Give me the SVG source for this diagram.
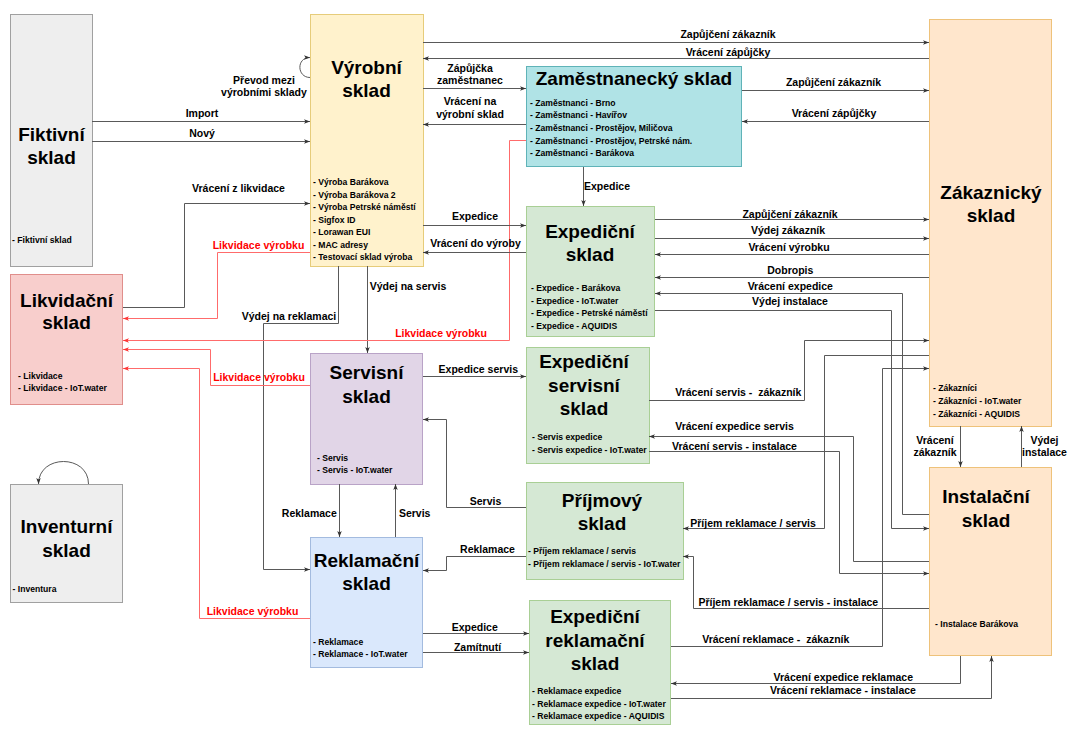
<svg xmlns="http://www.w3.org/2000/svg" width="1070" height="729" viewBox="0 0 1070 729">
<style>
text{font-family:"Liberation Sans",Arial,sans-serif;font-weight:bold;fill:#000}
.t{font-size:19px;text-anchor:middle}
.i{font-size:8.6px}
.l{font-size:10.5px;text-anchor:middle}
.r{fill:#ff0000}
.c path{fill:none;stroke:#595959;stroke-width:1}
.c path.red{stroke:#ff6b6b}
</style>
<defs>
<marker id="a" viewBox="0 0 8 8" refX="8" refY="4" markerWidth="6" markerHeight="6" orient="auto" markerUnits="userSpaceOnUse"><path d="M0,1 L8,4 L0,7 L2,4 z" fill="#333"/></marker>
<marker id="ar" viewBox="0 0 8 8" refX="8" refY="4" markerWidth="6" markerHeight="6" orient="auto" markerUnits="userSpaceOnUse"><path d="M0,1 L8,4 L0,7 L2,4 z" fill="#ff3333"/></marker>
</defs>
<rect width="1070" height="729" fill="#fff"/>

<g id="fiktivni">
<rect x="10.5" y="14.5" width="82" height="252" fill="#eeeeee" stroke="#a0a0a0"/>
<text class="t" x="51.5" y="141">Fiktivní</text>
<text class="t" x="51.5" y="164">sklad</text>
<text class="i" x="12" y="243">- Fiktivní sklad</text>
</g>

<g id="vyrobni">
<rect x="310.5" y="14.5" width="113" height="252" fill="#fff2cc" stroke="#e6cc7a"/>
<text class="t" x="366.5" y="73.5">Výrobní</text>
<text class="t" x="366.5" y="96.5">sklad</text>
<text class="i" x="313" y="185">- Výroba Barákova</text>
<text class="i" x="313" y="197.5">- Výroba Barákova 2</text>
<text class="i" x="313" y="210">- Výroba Petrské náměstí</text>
<text class="i" x="313" y="222.5">- Sigfox ID</text>
<text class="i" x="313" y="235">- Lorawan EUI</text>
<text class="i" x="313" y="247.5">- MAC adresy</text>
<text class="i" x="313" y="260">- Testovací sklad výroba</text>
</g>

<g id="zamestnanecky">
<rect x="526.5" y="66.5" width="215" height="100" fill="#b0e3e6" stroke="#5fb3b8"/>
<text class="t" x="634" y="85">Zaměstnanecký sklad</text>
<text class="i" x="530" y="105.7">- Zaměstnanci - Brno</text>
<text class="i" x="530" y="118.3">- Zaměstnanci - Havířov</text>
<text class="i" x="530" y="131">- Zaměstnanci - Prostějov, Miličova</text>
<text class="i" x="530" y="143.7">- Zaměstnanci - Prostějov, Petrské nám.</text>
<text class="i" x="530" y="156.3">- Zaměstnanci - Barákova</text>
</g>

<g id="zakaznicky">
<rect x="929.5" y="19.5" width="122" height="407" fill="#ffe6cc" stroke="#eec27a"/>
<text class="t" x="991" y="199">Zákaznický</text>
<text class="t" x="991" y="222">sklad</text>
<text class="i" x="933" y="391.3">- Zákazníci</text>
<text class="i" x="933" y="404">- Zákazníci - IoT.water</text>
<text class="i" x="933" y="416.7">- Zákazníci - AQUIDIS</text>
</g>

<g id="expedicni">
<rect x="526.5" y="206.5" width="128" height="130" fill="#d5e8d4" stroke="#a9cf95"/>
<text class="t" x="590" y="238.3">Expediční</text>
<text class="t" x="590" y="261">sklad</text>
<text class="i" x="531" y="291.3">- Expedice - Barákova</text>
<text class="i" x="531" y="303.7">- Expedice - IoT.water</text>
<text class="i" x="531" y="316.3">- Expedice - Petrské náměstí</text>
<text class="i" x="531" y="329">- Expedice - AQUIDIS</text>
</g>

<g id="likvidacni">
<rect x="10.5" y="274.5" width="112" height="130" fill="#f8cecc" stroke="#e08e8b"/>
<text class="t" x="66.5" y="306.7">Likvidační</text>
<text class="t" x="66.5" y="329.3">sklad</text>
<text class="i" x="18" y="378.7">- Likvidace</text>
<text class="i" x="18" y="391">- Likvidace - IoT.water</text>
</g>

<g id="servisni">
<rect x="310.5" y="353.5" width="112" height="131" fill="#e1d5e7" stroke="#b9a3c7"/>
<text class="t" x="366.5" y="379.3">Servisní</text>
<text class="t" x="366.5" y="402.7">sklad</text>
<text class="i" x="317" y="460.7">- Servis</text>
<text class="i" x="317" y="473">- Servis - IoT.water</text>
</g>

<g id="expedicni-servisni">
<rect x="526.5" y="347.5" width="123" height="116" fill="#d5e8d4" stroke="#a9cf95"/>
<text class="t" x="584" y="368.3">Expediční</text>
<text class="t" x="584" y="391.7">servisní</text>
<text class="t" x="584" y="415">sklad</text>
<text class="i" x="532" y="440.3">- Servis expedice</text>
<text class="i" x="532" y="452.7">- Servis expedice - IoT.water</text>
</g>

<g id="prijmovy">
<rect x="526.5" y="482.5" width="157" height="97" fill="#d5e8d4" stroke="#a9cf95"/>
<text class="t" x="602" y="506.7">Příjmový</text>
<text class="t" x="602" y="530">sklad</text>
<text class="i" x="528" y="554">- Příjem reklamace / servis</text>
<text class="i" x="528" y="566.7">- Příjem reklamace / servis - IoT.water</text>
</g>

<g id="reklamacni">
<rect x="310.5" y="537.5" width="112" height="130" fill="#dae8fc" stroke="#a3bbdf"/>
<text class="t" x="366.5" y="567.3">Reklamační</text>
<text class="t" x="366.5" y="590">sklad</text>
<text class="i" x="313" y="644.7">- Reklamace</text>
<text class="i" x="313" y="657">- Reklamace - IoT.water</text>
</g>

<g id="expedicni-reklamacni">
<rect x="529.5" y="600.5" width="141" height="124" fill="#d5e8d4" stroke="#a9cf95"/>
<text class="t" x="595" y="623.3">Expediční</text>
<text class="t" x="595" y="646.7">reklamační</text>
<text class="t" x="595" y="670">sklad</text>
<text class="i" x="532" y="693.7">- Reklamace expedice</text>
<text class="i" x="532" y="706.7">- Reklamace expedice - IoT.water</text>
<text class="i" x="532" y="719.3">- Reklamace expedice - AQUIDIS</text>
</g>

<g id="instalacni">
<rect x="929.5" y="467.5" width="122" height="188" fill="#ffe6cc" stroke="#eec27a"/>
<text class="t" x="986" y="503.3">Instalační</text>
<text class="t" x="986" y="526.7">sklad</text>
<text class="i" x="935" y="627">- Instalace Barákova</text>
</g>

<g id="inventurni">
<rect x="10.5" y="484.5" width="112" height="118" fill="#eeeeee" stroke="#a0a0a0"/>
<text class="t" x="66.5" y="533.3">Inventurní</text>
<text class="t" x="66.5" y="556.7">sklad</text>
<text class="i" x="12.5" y="591.7">- Inventura</text>
</g>

<g id="connectors" class="c">
<path d="M92,121.5 H310" marker-end="url(#a)"/>
<path d="M92,141.5 H310" marker-end="url(#a)"/>
<path d="M123,307.5 H184.5 V203.5 H310" marker-end="url(#a)"/>
<path class="red" d="M310,252.5 H217.5 V318.5 H123" marker-end="url(#ar)"/>
<path d="M338.5,266 V323.5 H263.5 V569.5 H310" marker-end="url(#a)"/>
<path d="M367.5,266 V353" marker-end="url(#a)"/>
<path class="red" d="M526,140.5 H509.5 V340.5 H123" marker-end="url(#ar)"/>
<path class="red" d="M310,385.5 H210.5 V349.5 H123" marker-end="url(#ar)"/>
<path class="red" d="M310,618.5 H199.5 V368.5 H123" marker-end="url(#ar)"/>
<path d="M423,42.5 H929" marker-end="url(#a)"/>
<path d="M929,58.5 H423" marker-end="url(#a)"/>
<path d="M423,88.5 H526" marker-end="url(#a)"/>
<path d="M526,124.5 H423" marker-end="url(#a)"/>
<path d="M742,90.5 H929" marker-end="url(#a)"/>
<path d="M929,121.5 H742" marker-end="url(#a)"/>
<path d="M583.5,167 V206" marker-end="url(#a)"/>
<path d="M423,225.5 H526" marker-end="url(#a)"/>
<path d="M526,252.5 H423" marker-end="url(#a)"/>
<path d="M655,219.5 H929" marker-end="url(#a)"/>
<path d="M655,238.5 H929" marker-end="url(#a)"/>
<path d="M929,254.5 H655" marker-end="url(#a)"/>
<path d="M929,277.5 H655" marker-end="url(#a)"/>
<path d="M929,514.5 H902.5 V293.5 H655" marker-end="url(#a)"/>
<path d="M655,310.5 H891.5 V528.5 H929" marker-end="url(#a)"/>
<path d="M649,400.5 H804.5 V340.5 H929" marker-end="url(#a)"/>
<path d="M929,355.5 H824.5 V528.5 H683" marker-end="url(#a)"/>
<path d="M671,646.5 H882.5 V368.5 H929" marker-end="url(#a)"/>
<path d="M929,561.5 H853.5 V436.5 H649" marker-end="url(#a)"/>
<path d="M649,451.5 H839.5 V573.5 H929" marker-end="url(#a)"/>
<path d="M929,608.5 H693.5 V556.5 H683" marker-end="url(#a)"/>
<path d="M960.5,656 V683.5 H671" marker-end="url(#a)"/>
<path d="M671,698.5 H991.5 V656" marker-end="url(#a)"/>
<path d="M960.5,426 V467" marker-end="url(#a)"/>
<path d="M1021.5,467 V426" marker-end="url(#a)"/>
<path d="M423,376.5 H526" marker-end="url(#a)"/>
<path d="M526,507.5 H446.5 V419.5 H423" marker-end="url(#a)"/>
<path d="M526,556.5 H446.5 V570.5 H423" marker-end="url(#a)"/>
<path d="M339.5,484 V537" marker-end="url(#a)"/>
<path d="M395.5,537 V484" marker-end="url(#a)"/>
<path d="M423,633.5 H529" marker-end="url(#a)"/>
<path d="M423,652.5 H529" marker-end="url(#a)"/>
<path d="M310,77.5 C297,77.5 296,57.5 310,57.5" marker-end="url(#a)"/>
<path d="M88.5,484 C88.5,454 38.5,454 38.5,484" marker-end="url(#a)"/>
</g>

<g id="labels">
<text class="l" x="202" y="116.5">Import</text>
<text class="l" x="202" y="137">Nový</text>
<text class="l" x="264" y="83.8">Převod mezi</text>
<text class="l" x="264" y="96">výrobními sklady</text>
<text class="l" x="238.5" y="191.5">Vrácení z likvidace</text>
<text class="l r" x="258.5" y="248.8">Likvidace výrobku</text>
<text class="l" x="470" y="71.5">Zápůjčka</text>
<text class="l" x="470" y="83.8">zaměstnanec</text>
<text class="l" x="470" y="104.8">Vrácení na</text>
<text class="l" x="470" y="117.8">výrobní sklad</text>
<text class="l" x="607" y="189.5">Expedice</text>
<text class="l" x="728" y="37.8">Zapůjčení zákazník</text>
<text class="l" x="728" y="56">Vrácení zápůjčky</text>
<text class="l" x="833.5" y="86">Zapůjčení zákazník</text>
<text class="l" x="834" y="116.5">Vrácení zápůjčky</text>
<text class="l" x="475" y="219.5">Expedice</text>
<text class="l" x="475.5" y="246.5">Vrácení do výroby</text>
<text class="l" x="408" y="289.8">Výdej na servis</text>
<text class="l r" x="441" y="336.5">Likvidace výrobku</text>
<text class="l" x="790" y="217.8">Zapůjčení zákazník</text>
<text class="l" x="788" y="233.8">Výdej zákazník</text>
<text class="l" x="789" y="250.8">Vrácení výrobku</text>
<text class="l" x="790.3" y="273.8">Dobropis</text>
<text class="l" x="790.3" y="289.5">Vrácení expedice</text>
<text class="l" x="790" y="304.8">Výdej instalace</text>
<text class="l" x="289" y="319.8">Výdej na reklamaci</text>
<text class="l r" x="259" y="381">Likvidace výrobku</text>
<text class="l r" x="252.5" y="614.8">Likvidace výrobku</text>
<text class="l" x="478.3" y="372.8">Expedice servis</text>
<text class="l" x="738.3" y="396" xml:space="preserve">Vrácení servis -  zákazník</text>
<text class="l" x="734.5" y="429.8">Vrácení expedice servis</text>
<text class="l" x="734.5" y="449.8">Vrácení servis - instalace</text>
<text class="l" x="935" y="443.8">Vrácení</text>
<text class="l" x="935" y="456">zákazník</text>
<text class="l" x="1044.5" y="443.8">Výdej</text>
<text class="l" x="1044.5" y="456">instalace</text>
<text class="l" x="753" y="526.5">Příjem reklamace / servis</text>
<text class="l" x="485.5" y="504.8">Servis</text>
<text class="l" x="487.5" y="552.8">Reklamace</text>
<text class="l" x="309.3" y="517">Reklamace</text>
<text class="l" x="414.7" y="517">Servis</text>
<text class="l" x="788.3" y="605.5">Příjem reklamace / servis - instalace</text>
<text class="l" x="775.8" y="642.8" xml:space="preserve">Vrácení reklamace -  zákazník</text>
<text class="l" x="843.3" y="680.5">Vrácení expedice reklamace</text>
<text class="l" x="843" y="693.8">Vrácení reklamace - instalace</text>
<text class="l" x="474.7" y="630.5">Expedice</text>
<text class="l" x="477.5" y="651">Zamítnutí</text>
</g>
</svg>
